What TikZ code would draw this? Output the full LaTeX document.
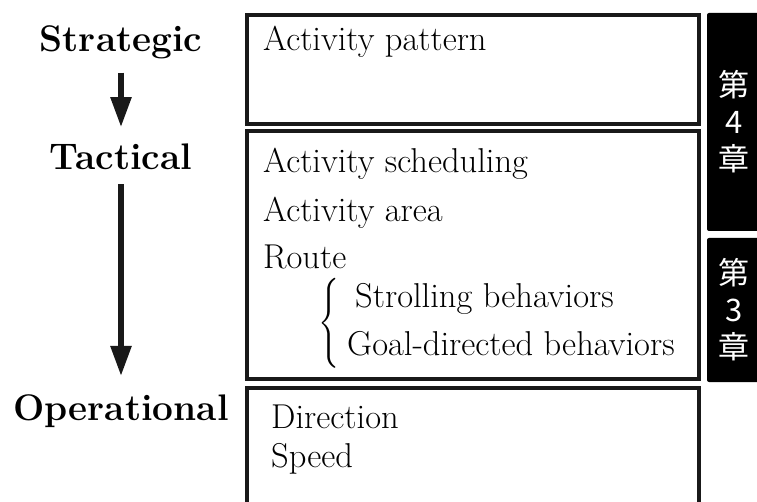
\documentclass[tikz,border=0pt]{standalone}
\usepackage{exscale}
\usepackage{graphicx}
\usepackage{fontspec}
\newfontfamily\cjk{Noto Sans CJK JP}
\usetikzlibrary{arrows.meta}

\begin{document}
\begin{tikzpicture}[x=1pt,y=-1pt,
  level/.style={font=\fontsize{37}{40}\selectfont\bfseries, anchor=base, inner sep=3pt},
  item/.style={font=\fontsize{34.5}{38}\selectfont, anchor=base west, inner sep=0pt},
  layerbox/.style={draw=black!90, line width=4pt, rectangle, inner sep=0pt},
  chapbar/.style={fill=black, rounded corners=2pt},
  chaptext/.style={text=white, font=\cjk\fontsize{31}{37}\selectfont, align=center, inner sep=0pt},
  bigarrow/.style={line width=5.5pt, black!90, -{Triangle[width=20pt,length=30pt]}}
]
\useasboundingbox (0,0) rectangle (757,502);

% decision levels
\node[level] (strat) at (121,52) {Strategic};
\node[level] (tact)  at (121,170) {Tactical};
\node[level] (oper)  at (121,420) {Operational};

\draw[bigarrow, shorten <=10pt, shorten >=14pt] (strat.south) -- (tact.north);
\draw[bigarrow, shorten <=11pt, shorten >=15pt] (tact.south) -- (oper.north);

% layer boxes
\node[layerbox, minimum width=452pt, minimum height=109pt] (stratbox) at (473,69.5) {};
\node[layerbox, minimum width=452pt, minimum height=248pt] (tactbox)  at (473,255) {};
\node[layerbox, minimum width=452pt, minimum height=132pt] (operbox)  at (473,454) {};

% box contents
\node[item] (pattern)  at (263,51)  {Activity pattern};
\node[item] (schedule) at (263,173) {Activity scheduling};
\node[item] (area)     at (263,222) {Activity area};
\node[item] (route)    at (263,269) {Route};
\node[item] (stroll)   at (355,308) {Strolling behaviors};
\node[item] (goal)     at (347,355) {Goal-directed behaviors};
\node[inner sep=0pt] (brace) at (329,323)
  {\resizebox*{21pt}{90pt}{$\Biggl\{$}};
\node[item] (direction) at (271,428) {Direction};
\node[item] (speed)     at (271,467) {Speed};

% chapter bars
\fill[chapbar] (707,13) rectangle (762,231);
\fill[chapbar] (707,238) rectangle (762,382);
\node[chaptext] (ch4) at (734,122) {第\\4\\章};
\node[chaptext] (ch3) at (734,310) {第\\3\\章};
\end{tikzpicture}
\end{document}
